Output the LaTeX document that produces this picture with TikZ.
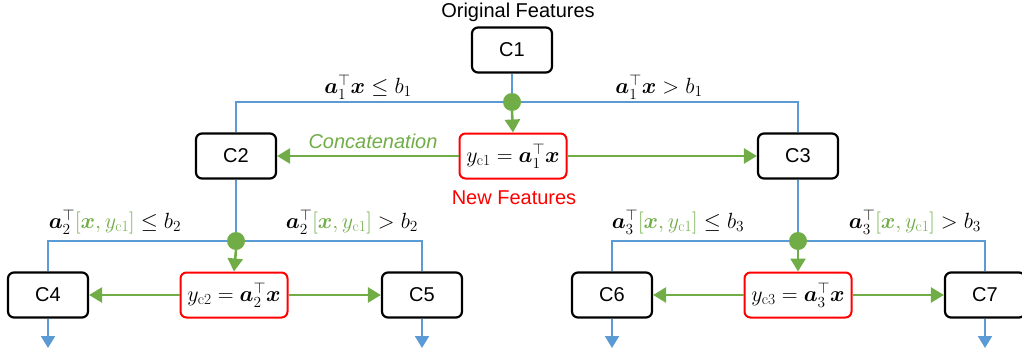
\documentclass[tikz,border=0pt]{standalone}
\usepackage{fix-cm}
\usepackage{amsmath,bm}
\usepackage{fontspec}
\setsansfont{Liberation Sans}
\usetikzlibrary{arrows.meta}
\definecolor{bluec}{RGB}{91,155,213}
\definecolor{greenc}{RGB}{112,173,71}
\definecolor{redc}{RGB}{255,0,0}
\tikzset{
  cbox/.style={draw=black, line width=2.2pt, rounded corners=6pt, minimum width=80pt, minimum height=45pt, fill=white, font=\sffamily\fontsize{20}{24}\selectfont},
  ybox/.style={draw=redc, line width=2pt, rounded corners=6pt, minimum width=107pt, minimum height=45pt, fill=white, inner sep=2pt, font=\fontsize{22}{26}\selectfont},
  bline/.style={draw=bluec, line width=1.8pt},
  barrow/.style={draw=bluec, line width=2pt, -{Triangle[length=12pt,width=14pt]}},
  garrow/.style={draw=greenc, line width=2.6pt, -{Triangle[length=13pt,width=15pt]}},
  jdot/.style={circle, fill=greenc, minimum size=18pt, inner sep=0pt},
  mlabel/.style={font=\fontsize{22}{26}\selectfont},
  stext/.style={font=\sffamily\fontsize{20}{24}\selectfont}
}
\newcommand{\ba}{\boldsymbol{a}}
\newcommand{\bx}{\boldsymbol{x}}
\begin{document}
\begin{tikzpicture}[x=1pt,y=-1pt]
\useasboundingbox (0,0) rectangle (1022,353);
% nodes
\node[stext] (orig) at (518,12) {Original Features};
\node[cbox] (C1) at (512,50) {C1};
\node[cbox] (C2) at (236,156) {C2};
\node[cbox] (C3) at (798,156) {C3};
\node[ybox] (Y1) at (513,156) {$y_{\mathrm{c1}} = \ba_1^{\top}\bx$};
\node[cbox] (C4) at (48,295) {C4};
\node[ybox] (Y2) at (234,295) {$y_{\mathrm{c2}} = \ba_2^{\top}\bx$};
\node[cbox] (C5) at (422,295) {C5};
\node[cbox] (C6) at (612,295) {C6};
\node[ybox] (Y3) at (798,295) {$y_{\mathrm{c3}} = \ba_3^{\top}\bx$};
\node[cbox] (C7) at (985,295) {C7};
\coordinate (J1) at (512,102);
\coordinate (J2) at (236,241);
\coordinate (J3) at (798,241);
\coordinate (E4) at (48,348);
\coordinate (E5) at (422,348);
\coordinate (E6) at (612,348);
\coordinate (E7) at (985,348);
% blue tree lines
\draw[bline] (C1.south) -- (J1);
\draw[bline] (J1) -| (C2.north);
\draw[bline] (J1) -| (C3.north);
\draw[bline] (C2.south) -- (J2);
\draw[bline] (J2) -| (C4.north);
\draw[bline] (J2) -| (C5.north);
\draw[bline] (C3.south) -- (J3);
\draw[bline] (J3) -| (C6.north);
\draw[bline] (J3) -| (C7.north);
\draw[barrow] (C4.south) -- (E4);
\draw[barrow] (C5.south) -- (E5);
\draw[barrow] (C6.south) -- (E6);
\draw[barrow] (C7.south) -- (E7);
% junction dots
\node[jdot] (D1) at (J1) {};
\node[jdot] (D2) at (J2) {};
\node[jdot] (D3) at (J3) {};
% green arrows
\draw[garrow] (D1.south) -- (Y1.north);
\draw[garrow] (Y1.west) -- (C2.east);
\draw[garrow] (Y1.east) -- (C3.west);
\draw[garrow] (D2.south) -- (Y2.north);
\draw[garrow] (Y2.west) -- (C4.east);
\draw[garrow] (Y2.east) -- (C5.west);
\draw[garrow] (D3.south) -- (Y3.north);
\draw[garrow] (Y3.west) -- (C6.east);
\draw[garrow] (Y3.east) -- (C7.west);
% texts
\node[stext, text=greenc, font=\sffamily\itshape\fontsize{20}{24}\selectfont] (concat) at (373,141) {Concatenation};
\node[stext, text=redc] (newf) at (514,198) {New Features};
\node[mlabel] (L1) at (368,87) {$\ba_1^{\top}\bx \leq b_1$};
\node[mlabel] (R1) at (659,87) {$\ba_1^{\top}\bx > b_1$};
\node[mlabel] (L2) at (115,222) {$\ba_2^{\top}{\color{greenc}[\bx, y_{\mathrm{c1}}]} \leq b_2$};
\node[mlabel] (R2) at (352,222) {$\ba_2^{\top}{\color{greenc}[\bx, y_{\mathrm{c1}}]} > b_2$};
\node[mlabel] (L3) at (678,222) {$\ba_3^{\top}{\color{greenc}[\bx, y_{\mathrm{c1}}]} \leq b_3$};
\node[mlabel] (R3) at (915,222) {$\ba_3^{\top}{\color{greenc}[\bx, y_{\mathrm{c1}}]} > b_3$};
\end{tikzpicture}
\end{document}
